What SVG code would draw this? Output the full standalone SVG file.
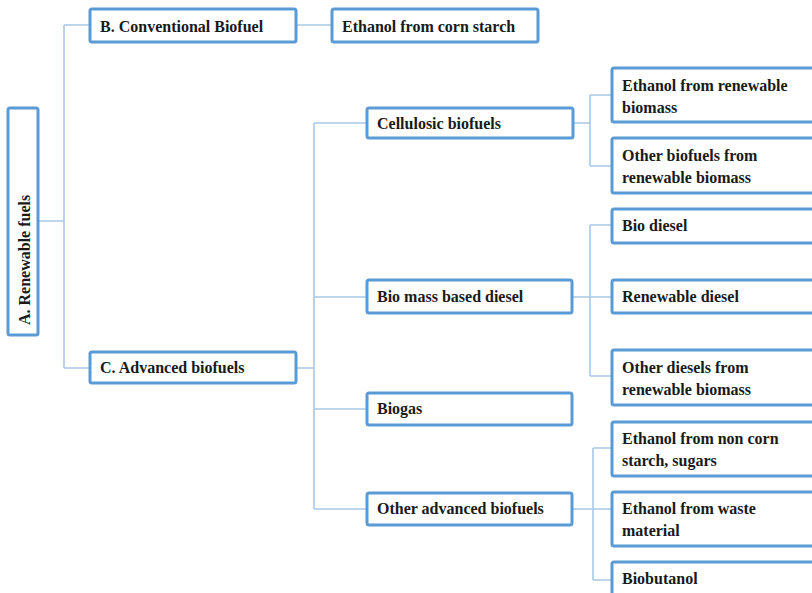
<svg xmlns="http://www.w3.org/2000/svg" width="812" height="593" viewBox="0 0 812 593">
<style>
.box{fill:#fff;stroke:#5b9bd5;stroke-width:3;}
.t{font-family:"Liberation Serif","Times New Roman",serif;font-weight:bold;font-size:16px;fill:#1a1a1a;}
.c{fill:none;stroke:#a9c8e6;stroke-width:1.6;}
</style>
<rect width="812" height="593" fill="#fff"/>
<g id="connectors">
<path class="c" d="M38 221 H64 M64 25 V368 M64 25 H90 M64 368 H90"/>
<path class="c" d="M296 25 H332"/>
<path class="c" d="M296 368 H314 M314 123 V509 M314 123 H367 M314 297 H367 M314 409 H367 M314 509 H367"/>
<path class="c" d="M573 123 H590 M590 95 V166 M590 95 H612 M590 166 H612"/>
<path class="c" d="M572 297 H612 M590 225 V376 M590 225 H612 M590 376 H612"/>
<path class="c" d="M572 509 H612 M593 448 V580 M593 448 H612 M593 580 H612"/>
</g>
<g id="nodeA"><rect class="box" x="8" y="108" width="30" height="227" rx="2"/><text class="t" transform="translate(29.5 325) rotate(-90)">A. Renewable fuels</text></g>
<g id="nodeB"><rect class="box" x="90" y="9" width="206" height="33" rx="2"/><text class="t" x="100" y="32">B. Conventional Biofuel</text></g>
<g id="nodeCorn"><rect class="box" x="332" y="9" width="206" height="33" rx="2"/><text class="t" x="342" y="32">Ethanol from corn starch</text></g>
<g id="nodeC"><rect class="box" x="90" y="352" width="206" height="31" rx="2"/><text class="t" x="100" y="373">C. Advanced biofuels</text></g>
<g id="nodeCell"><rect class="box" x="367" y="108" width="206" height="30" rx="2"/><text class="t" x="377" y="129">Cellulosic biofuels</text></g>
<g id="nodeBMD"><rect class="box" x="367" y="280" width="205" height="33" rx="2"/><text class="t" x="377" y="302">Bio mass based diesel</text></g>
<g id="nodeBiogas"><rect class="box" x="367" y="393" width="205" height="32" rx="2"/><text class="t" x="377" y="414">Biogas</text></g>
<g id="nodeOther"><rect class="box" x="367" y="493" width="205" height="32" rx="2"/><text class="t" x="377" y="514">Other advanced biofuels</text></g>
<g id="nodeERB"><rect class="box" x="612" y="68" width="220" height="54" rx="2"/><text class="t" x="622" y="91">Ethanol from renewable</text><text class="t" x="622" y="113">biomass</text></g>
<g id="nodeOBRB"><rect class="box" x="612" y="138" width="220" height="55" rx="2"/><text class="t" x="622" y="161">Other biofuels from</text><text class="t" x="622" y="183">renewable biomass</text></g>
<g id="nodeBD"><rect class="box" x="612" y="209" width="220" height="34" rx="2"/><text class="t" x="622" y="231">Bio diesel</text></g>
<g id="nodeRD"><rect class="box" x="612" y="280" width="220" height="33" rx="2"/><text class="t" x="622" y="302">Renewable diesel</text></g>
<g id="nodeODRB"><rect class="box" x="612" y="350" width="220" height="55" rx="2"/><text class="t" x="622" y="373">Other diesels from</text><text class="t" x="622" y="395">renewable biomass</text></g>
<g id="nodeENC"><rect class="box" x="612" y="422" width="220" height="54" rx="2"/><text class="t" x="622" y="444">Ethanol from non corn</text><text class="t" x="622" y="466">starch, sugars</text></g>
<g id="nodeEWM"><rect class="box" x="612" y="492" width="220" height="54" rx="2"/><text class="t" x="622" y="514">Ethanol from waste</text><text class="t" x="622" y="536">material</text></g>
<g id="nodeBB"><rect class="box" x="612" y="562" width="220" height="40" rx="2"/><text class="t" x="622" y="584">Biobutanol</text></g>
</svg>
